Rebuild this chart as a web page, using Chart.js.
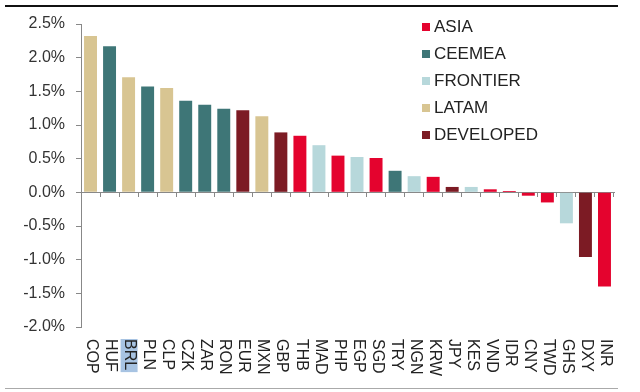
<!DOCTYPE html>
<html>
<head>
<meta charset="utf-8">
<script src="https://cdn.jsdelivr.net/npm/chart.js@4"></script>
<style>
  body { margin: 0; background: #fff; }
  #wrap { position: relative; width: 640px; height: 392px; }
  #legend { position: absolute; left: 422px; top: 13px; font-family: "Liberation Sans", Arial, sans-serif; font-size: 17px; color: #222; }
  #legend div { height: 27px; line-height: 27px; white-space: nowrap; }
  #legend span { display: inline-block; width: 8px; height: 8px; margin-right: 4px; vertical-align: 1px; }
</style>
</head>
<body>
<div id="wrap">
  <canvas id="myChart" width="640" height="392"></canvas>
  <div id="legend"></div>
</div>
<script>
const currencies = ['COP','HUF','BRL','PLN','CLP','CZK','ZAR','RON','EUR','MXN','GBP','THB','MAD','PHP',
  'EGP','SGD','TRY','NGN','KRW','JPY','KES','VND','IDR','CNY','TWD','GHS','DXY','INR'];
const moves = [2.32, 2.17, 1.71, 1.57, 1.55, 1.36, 1.30, 1.24, 1.22, 1.13, 0.89, 0.84, 0.70, 0.545,
  0.525, 0.51, 0.32, 0.24, 0.23, 0.08, 0.08, 0.045, 0.02, -0.05, -0.15, -0.46, -0.96, -1.40];
const regions = ['LATAM','CEEMEA','LATAM','CEEMEA','LATAM','CEEMEA','CEEMEA','CEEMEA','DEVELOPED','LATAM',
  'DEVELOPED','ASIA','FRONTIER','ASIA','FRONTIER','ASIA','CEEMEA','FRONTIER','ASIA','DEVELOPED','FRONTIER',
  'ASIA','ASIA','ASIA','ASIA','FRONTIER','DEVELOPED','ASIA'];
const groupNames = ['ASIA','CEEMEA','FRONTIER','LATAM','DEVELOPED'];
const groupColors = ['#E4032E','#3E7677','#B7D8DB','#D8C592','#7C1B24'];
const yTicks = [-2, -1.5, -1, -0.5, 0, 0.5, 1, 1.5, 2, 2.5];

const highlighted = 'BRL';
const fontFam = '"Liberation Sans", Arial, sans-serif';

function colorOf(r) {
  return groupColors[groupNames.indexOf(r)];
}

// legend
const leg = document.getElementById('legend');
groupNames.forEach(function (g, i) {
  const row = document.createElement('div');
  row.innerHTML = '<span style="background:' + groupColors[i] + '"></span>' + g;
  leg.appendChild(row);
});

// frame lines + rotated category labels
const extras = {
  id: 'extras',
  afterDraw(chart) {
    const ctx = chart.ctx;
    const xs = chart.scales.x;
    ctx.save();
    ctx.fillStyle = '#111';
    ctx.fillRect(5, 5, 613, 2);
    ctx.fillStyle = '#aaa';
    ctx.fillRect(5, 388, 613, 1);

    ctx.font = '16px ' + fontFam;
    ctx.textAlign = 'left';
    ctx.textBaseline = 'middle';
    currencies.forEach(function (c, i) {
      const x = xs.getPixelForValue(i);
      const w = ctx.measureText(c).width;
      if (c === highlighted) {
        ctx.fillStyle = '#A7C3E2';
        ctx.fillRect(x - 8, 339, 17, w + 2);
      }
      ctx.save();
      ctx.translate(x + 1, 339);
      ctx.rotate(Math.PI / 2);
      ctx.fillStyle = '#222';
      ctx.fillText(c, 0, 0);
      ctx.restore();
    });
    ctx.restore();
  }
};

new Chart(document.getElementById('myChart'), {
  type: 'bar',
  data: {
    labels: currencies,
    datasets: [{
      data: moves,
      backgroundColor: regions.map(colorOf),
      barPercentage: 0.68,
      categoryPercentage: 1
    }]
  },
  options: {
    responsive: false,
    animation: false,
    layout: { padding: { top: 24, right: 26, bottom: 65, left: 0 } },
    plugins: { legend: { display: false }, tooltip: { enabled: false } },
    scales: {
      x: {
        position: { y: 0 },
        grid: { offset: true, drawOnChartArea: false, tickLength: 4, color: '#888' },
        border: { color: '#888' },
        ticks: { display: false }
      },
      y: {
        min: yTicks[0],
        max: yTicks[yTicks.length - 1],
        afterBuildTicks: function (s) { s.ticks = yTicks.map(v => ({ value: v })); },
        afterFit: function (s) { s.width = 81; },
        grid: { drawOnChartArea: false, tickLength: 5, color: '#888' },
        border: { color: '#888' },
        ticks: {
          padding: 11,
          color: '#333',
          font: { family: fontFam, size: 16 },
          callback: v => v.toFixed(1) + '%'
        }
      }
    }
  },
  plugins: [extras]
});
</script>
</body>
</html>
